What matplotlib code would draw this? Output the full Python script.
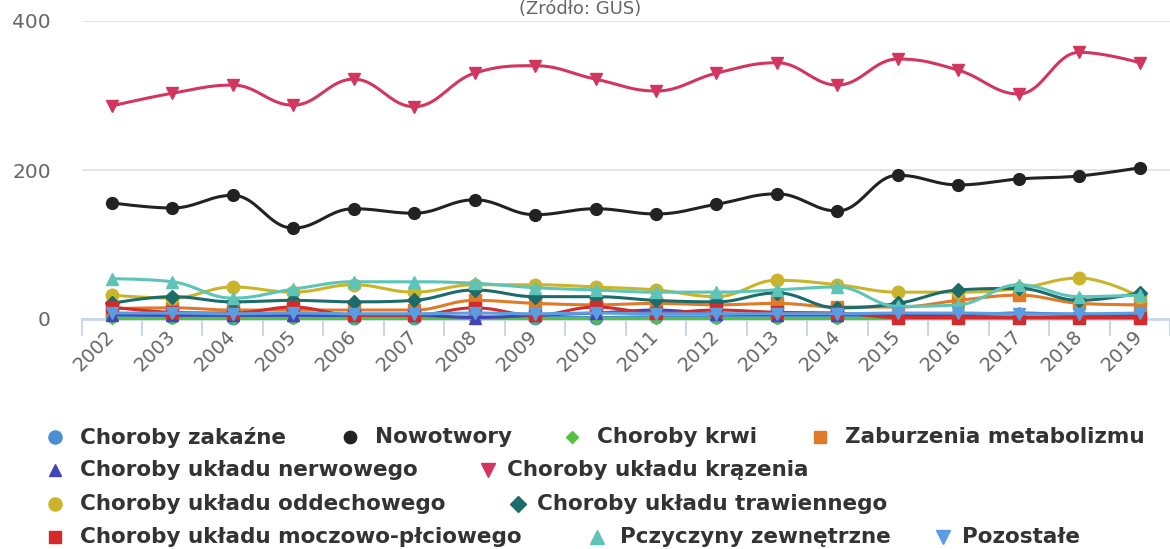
import matplotlib
matplotlib.use('Agg')
import matplotlib.pyplot as plt
import numpy as np

# Dane
lata = [str(r) for r in range(2002, 2020)]

zakazne = [4, 3, 2, 3, 2, 2, 3, 2, 2, 3, 3, 3, 3, 4, 4, 3, 3, 3]
nowotwory = [156, 149, 166, 122, 148, 142, 160, 140, 148, 141, 154, 168, 145, 193, 180, 188, 192, 203]
krwi = [1, 1, 1, 1, 1, 1, 1, 1, 1, 1, 1, 1, 1, 1, 1, 1, 1, 1]
metabolizm = [14, 15, 12, 12, 12, 12, 25, 21, 19, 21, 19, 21, 16, 16, 25, 32, 21, 19]
nerwowy = [6, 5, 5, 5, 5, 5, 2, 5, 8, 12, 7, 6, 6, 6, 6, 8, 6, 6]
krazenia = [286, 303, 314, 287, 322, 285, 330, 340, 322, 306, 330, 344, 314, 349, 334, 302, 358, 344]
oddechowy = [32, 28, 43, 36, 46, 36, 46, 46, 43, 39, 30, 52, 46, 36, 36, 41, 55, 30]
trawienny = [21, 30, 23, 25, 23, 25, 39, 30, 30, 25, 23, 35, 15, 21, 39, 41, 25, 35]
moczowy = [16, 9, 8, 16, 5, 5, 15, 5, 16, 8, 12, 9, 8, 2, 2, 2, 2, 2]
zewnetrzne = [54, 50, 28, 40, 50, 50, 48, 42, 39, 36, 36, 39, 43, 17, 19, 46, 30, 32]
pozostale = [8, 8, 7, 8, 7, 7, 8, 7, 8, 7, 7, 7, 7, 8, 8, 7, 7, 8]

serie = [
    ("Choroby zakaźne", zakazne, '#4a8fd4', 'o', 9),
    ("Nowotwory", nowotwory, '#222222', 'o', 8.5),
    ("Choroby krwi", krwi, '#55c23f', 'D', 6),
    ("Zaburzenia metabolizmu", metabolizm, '#e07a28', 's', 8),
    ("Choroby układu nerwowego", nerwowy, '#4444b8', '^', 8.5),
    ("Choroby układu krązenia", krazenia, '#d2365f', 'v', 9),
    ("Choroby układu oddechowego", oddechowy, '#c9b42a', 'o', 9),
    ("Choroby układu trawiennego", trawienny, '#1d6c6c', 'D', 7.5),
    ("Choroby układu moczowo-płciowego", moczowy, '#d42a2a', 's', 8.5),
    ("Pczyczyny zewnętrzne", zewnetrzne, '#5cc4b8', '^', 9),
    ("Pozostałe", pozostale, '#5a9de0', 'v', 9),
]


def spline(xs, ys, n=24):
    # wygładzanie w stylu Highcharts (spline)
    s = 1.5
    d = s + 1
    N = len(xs)
    lc = [None] * N
    rc = [None] * N
    for i in range(1, N - 1):
        px, py = xs[i], ys[i]
        lx, ly = xs[i - 1], ys[i - 1]
        nx, ny = xs[i + 1], ys[i + 1]
        lcx, lcy = (s * px + lx) / d, (s * py + ly) / d
        rcx, rcy = (s * px + nx) / d, (s * py + ny) / d
        corr = ((rcy - lcy) * (rcx - px)) / (rcx - lcx) + py - rcy
        lcy += corr
        rcy += corr
        if lcy > ly and lcy > py:
            lcy = max(ly, py); rcy = 2 * py - lcy
        elif lcy < ly and lcy < py:
            lcy = min(ly, py); rcy = 2 * py - lcy
        if rcy > ny and rcy > py:
            rcy = max(ny, py); lcy = 2 * py - rcy
        elif rcy < ny and rcy < py:
            rcy = min(ny, py); lcy = 2 * py - rcy
        lc[i] = (lcx, lcy)
        rc[i] = (rcx, rcy)
    t = np.linspace(0, 1, n)
    X, Y = [], []
    for i in range(N - 1):
        p0 = (xs[i], ys[i])
        p3 = (xs[i + 1], ys[i + 1])
        p1 = rc[i] if rc[i] else p0
        p2 = lc[i + 1] if lc[i + 1] else p3
        bx = (1 - t) ** 3 * p0[0] + 3 * (1 - t) ** 2 * t * p1[0] + 3 * (1 - t) * t ** 2 * p2[0] + t ** 3 * p3[0]
        by = (1 - t) ** 3 * p0[1] + 3 * (1 - t) ** 2 * t * p1[1] + 3 * (1 - t) * t ** 2 * p2[1] + t ** 3 * p3[1]
        X.extend(bx)
        Y.extend(by)
    return np.array(X), np.array(Y)


W, H = 1170, 549
fig = plt.figure(figsize=(W / 100, H / 100), dpi=100)
ax = fig.add_axes([81.5 / W, 1 - 319 / H, 1 - 81.5 / W, 298 / H])

x = np.arange(len(lata))
for z, (nazwa, vals, kolor, mk, ms) in enumerate(serie):
    sx, sy = spline(list(x), vals)
    ax.plot(sx, sy, color=kolor, lw=2.2, zorder=3 + z, clip_on=False, solid_capstyle='round')
    ax.plot(x, vals, ls='none', marker=mk, ms=ms, color=kolor, mec=kolor, zorder=3 + z, clip_on=False)

ax.set_xlim(-0.5, -0.5 + (W - 81.5) / 60.94)
ax.set_ylim(0, 400)
ax.set_yticks([0, 200, 400])
ax.yaxis.grid(True, color='#e0e0e0', lw=1.3)
ax.set_axisbelow(True)
for sp in ['top', 'right', 'left']:
    ax.spines[sp].set_visible(False)
ax.spines['bottom'].set_color('#ccd6eb')
ax.spines['bottom'].set_linewidth(2)
ax.spines['bottom'].set_zorder(2)

ax.set_xticks(x)
ax.set_xticklabels(lata, rotation=45, ha='right', va='center', rotation_mode='anchor',
                   fontsize=14, color='#666666')
ax.set_xticks(np.arange(-0.5, len(lata), 1.0), minor=True)
ax.tick_params(axis='x', which='major', length=0, pad=10)
ax.tick_params(axis='x', which='minor', length=12, width=1.5, color='#ccd6eb')
ax.tick_params(axis='y', length=0, pad=22, labelsize=14.5, labelcolor='#666666')

fig.text(580 / W, 1.0, "(Źródło: GUS)", ha='center', va='top', fontsize=13, color='#666666')

# legenda
leg = fig.add_axes([0, 0, 1, 1])
leg.set_xlim(0, W)
leg.set_ylim(H, 0)
leg.axis('off')
pozycje = [
    (55, 80, 437), (350, 375, 437), (572, 597, 437), (820, 845, 437),
    (55, 80, 470), (488, 507, 470),
    (55, 80, 504), (518, 537, 504),
    (55, 80, 537), (597, 620, 537), (943, 962, 537),
]
for (nazwa, vals, kolor, mk, ms), (mx, tx, ty) in zip(serie, pozycje):
    leg.plot([mx], [ty], marker=mk, ms=ms * 1.05, color=kolor, ls='none')
    leg.text(tx, ty, nazwa, fontsize=15.5, fontweight='bold', color='#333333', va='center', ha='left')

plt.savefig('out.png', dpi=100)
plt.close()
